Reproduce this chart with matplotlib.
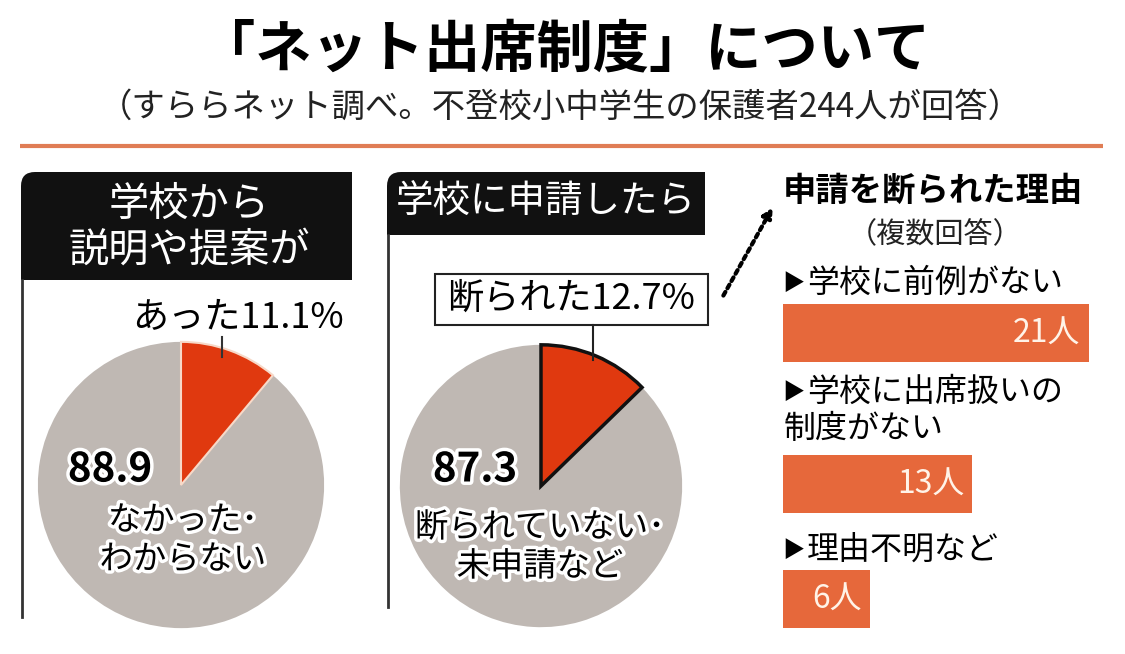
import matplotlib
matplotlib.use("Agg")
import matplotlib.pyplot as plt
import matplotlib.patheffects as pe
from matplotlib.path import Path
from matplotlib.patches import PathPatch, Rectangle

plt.rcParams['font.family'] = ['Noto Sans CJK JP', 'DejaVu Sans']

# data
title = "「ネット出席制度」について"
subtitle = "（すららネット調べ。不登校小中学生の保護者244人が回答）"

advice_labels = ["あった", "なかった･\nわからない"]
advice_share = [11.1, 88.9]

refused_labels = ["断られた", "断られていない･\n未申請など"]
refused_share = [12.7, 87.3]

reasons = ["学校に前例がない", "学校に出席扱いの\n制度がない", "理由不明など"]
reason_counts = [21, 13, 6]

RED = "#e0390f"
GREY = "#bfb8b3"
BAR = "#e6683b"
LINE = "#e07d55"

W, H = 1125, 654
fig = plt.figure(figsize=(W / 100, H / 100), dpi=100)


def px_axes(x0, y0, x1, y1):
    # axes placed by pixel box (y measured from top)
    return fig.add_axes([x0 / W, (H - y1) / H, (x1 - x0) / W, (y1 - y0) / H])


def draw_pie(cx, cy, r, shares, edge):
    pa = px_axes(cx - r, cy - r, cx + r, cy + r)
    wedges, _ = pa.pie(shares, colors=[RED, GREY], startangle=90, counterclock=False,
                       radius=1, wedgeprops=dict(linewidth=0))
    wedges[0].set_edgecolor(edge[0])
    wedges[0].set_linewidth(edge[1])
    wedges[0].set_zorder(3)
    pa.set_xlim(-1.02, 1.02)
    pa.set_ylim(-1.02, 1.02)
    pa.set_aspect('equal')
    pa.axis('off')
    return pa


draw_pie(181, 485, 146, advice_share, ("#f7d9c8", 1.5))
draw_pie(541, 486, 144, refused_share, ("#111111", 2.5))

# bar chart of reasons
bx = px_axes(783, 0, 1100, H)
bar_y = [332.5, 484, 598.5]
bx.barh(bar_y, reason_counts, height=58, color=BAR, left=0)
bx.set_xlim(0, 317 / 14.55)
bx.set_ylim(H, 0)
bx.axis('off')
for y, c in zip(bar_y, reason_counts):
    bx.text(c - 0.55, y + 1, f"{c}人", color="#fff3e8", fontsize=23,
            ha='right', va='center')

# overlay for layout and text
ax = fig.add_axes([0, 0, 1, 1])
ax.set_xlim(0, W)
ax.set_ylim(H, 0)
ax.axis('off')
ax.patch.set_alpha(0)

ax.text(565, 50, title, fontsize=40.5, fontweight='bold', ha='center', va='center')
ax.text(560, 107, subtitle, fontsize=24, ha='center', va='center', color="#222222")
ax.plot([20, 1103], [146, 146], color=LINE, lw=3, solid_capstyle='butt')


def header(x0, y0, x1, y1, r=14):
    verts = [(x0, y1), (x0, y0 + r), (x0, y0), (x0 + r, y0), (x1, y0), (x1, y1), (x0, y1)]
    codes = [Path.MOVETO, Path.LINETO, Path.CURVE3, Path.CURVE3, Path.LINETO,
             Path.LINETO, Path.CLOSEPOLY]
    ax.add_patch(PathPatch(Path(verts, codes), facecolor="#111111", edgecolor='none'))


# left panel
header(21, 172, 352, 280)
ax.text(189, 204, "学校から", color='white', fontsize=29, ha='center', va='center')
ax.text(189, 250, "説明や提案が", color='white', fontsize=29, ha='center', va='center')
ax.plot([22, 22], [280, 617], color="#333333", lw=2)
ax.text(238, 318, f"{advice_labels[0]}{advice_share[0]}%", fontsize=26, ha='center', va='center')
ax.plot([222, 222], [337, 357], color="#333333", lw=1.5)

stroke = [pe.withStroke(linewidth=5, foreground='white')]
ax.text(110, 470, f"{advice_share[1]}", fontsize=29, fontweight='bold', ha='center',
        va='center', path_effects=stroke)
ax.text(183, 540, advice_labels[1], fontsize=24, ha='center', va='center',
        linespacing=1.15, path_effects=stroke)

# middle panel
header(387, 172, 705, 235)
ax.text(546, 202, "学校に申請したら", color='white', fontsize=27, ha='center', va='center')
ax.plot([388, 388], [235, 607], color="#333333", lw=2)
ax.add_patch(Rectangle((435, 274), 273, 51, facecolor='white', edgecolor="#222222", lw=1.5))
ax.text(571, 299, f"{refused_labels[0]}{refused_share[0]}%", fontsize=26, ha='center', va='center')
ax.plot([593, 593], [325, 360], color="#222222", lw=1.5)
ax.text(475, 470, f"{refused_share[1]}", fontsize=29, fontweight='bold', ha='center',
        va='center', path_effects=stroke)
ax.text(540, 547, refused_labels[1], fontsize=24, ha='center', va='center',
        linespacing=1.15, path_effects=stroke)

# dotted arrow to the right panel
ax.annotate("", xy=(774, 205), xytext=(722, 298),
            arrowprops=dict(arrowstyle='-|>', lw=3, linestyle=(0, (1, 1)),
                            color='black', mutation_scale=14))

# right panel text
ax.text(783, 191, "申請を断られた理由", fontsize=24, fontweight='bold', ha='left', va='center')
ax.text(935, 235, "（複数回答）", fontsize=21, ha='center', va='center', color="#222222")
label_y = [283, 410, 550]
for y, lab in zip(label_y, reasons):
    lines = lab.split("\n")
    ty = y if len(lines) == 1 else y - 18
    ax.text(782, ty, "▶", fontsize=16, ha='left', va='center')
    ax.text(807, ty, lines[0], fontsize=23, ha='left', va='center')
    if len(lines) > 1:
        ax.text(784, y + 19, lines[1], fontsize=23, ha='left', va='center')

fig.savefig("out.png", dpi=100)
